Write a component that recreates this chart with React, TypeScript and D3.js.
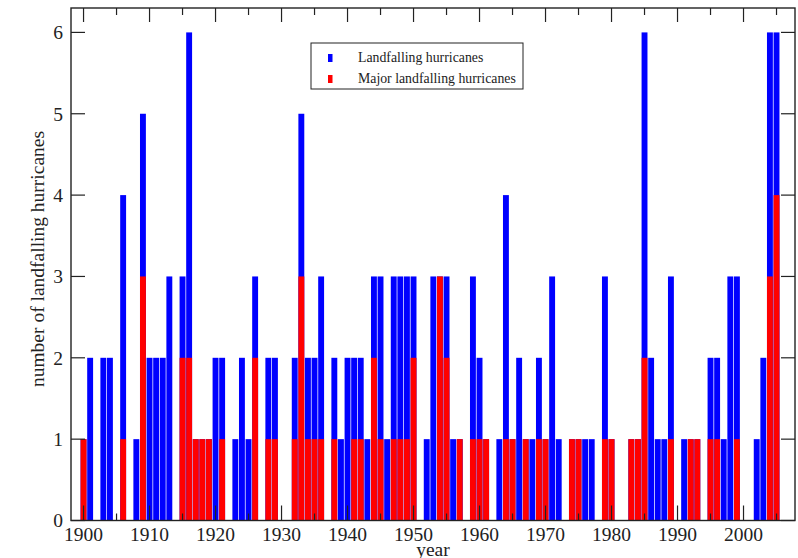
import React, { useEffect, useRef } from "react";
import * as d3 from "d3";

const startYear = 1900;
// number of landfalling hurricanes per year, 1900-2005
const landfalling = [
  1, 2, 0, 2, 2, 0, 4, 0, 1, 5,
  2, 2, 2, 3, 0, 3, 6, 1, 1, 1,
  2, 2, 0, 1, 2, 1, 3, 0, 2, 2,
  0, 0, 2, 5, 2, 2, 3, 0, 2, 1,
  2, 2, 2, 1, 3, 3, 1, 3, 3, 3,
  3, 0, 1, 3, 3, 3, 1, 1, 0, 3,
  2, 1, 0, 1, 4, 1, 2, 1, 1, 2,
  1, 3, 1, 0, 1, 1, 1, 1, 0, 3,
  1, 0, 0, 1, 1, 6, 2, 1, 1, 3,
  0, 1, 1, 1, 0, 2, 2, 1, 3, 3,
  0, 0, 1, 2, 6, 6,
];
// number of major landfalling hurricanes per year, 1900-2005
const major = [
  1, 0, 0, 0, 0, 0, 1, 0, 0, 3,
  0, 0, 0, 0, 0, 2, 2, 1, 1, 1,
  0, 1, 0, 0, 0, 0, 2, 0, 1, 1,
  0, 0, 1, 3, 1, 1, 1, 0, 1, 0,
  0, 1, 1, 0, 2, 1, 0, 1, 1, 1,
  2, 0, 0, 0, 3, 2, 0, 1, 0, 1,
  1, 1, 0, 0, 1, 1, 0, 1, 0, 1,
  1, 0, 0, 0, 1, 1, 0, 0, 0, 1,
  1, 0, 0, 1, 1, 2, 0, 0, 0, 1,
  0, 0, 1, 1, 0, 1, 1, 0, 0, 1,
  0, 0, 0, 0, 3, 4,
];
const years = landfalling.map((_, i) => startYear + i);
const xMajorTicks = [1900, 1910, 1920, 1930, 1940, 1950, 1960, 1970, 1980, 1990, 2000];
const xMinorTicks = [1905, 1915, 1925, 1935, 1945, 1955, 1965, 1975, 1985, 1995, 2005];
const yTicks = [0, 1, 2, 3, 4, 5, 6];
const legendLabels = ["Landfalling hurricanes", "Major landfalling hurricanes"];
const colors = ["#0000ff", "#ff0000"];

const W = 798;
const H = 558;
const left = 71;
const right = 795;
const top = 8;
const bottom = 520.5;
const font = "'Liberation Serif', 'Times New Roman', serif";

export default function App() {
  const ref = useRef<SVGSVGElement>(null);

  useEffect(() => {
    document.body.style.margin = "0";
    const svg = d3.select(ref.current);
    svg.selectAll("*").remove();

    const x = d3.scaleLinear().domain([1898.1, 2007.8]).range([left, right]);
    const y = d3.scaleLinear().domain([0, 6.3]).range([bottom, top]);
    const bw = 5.9;

    svg.append("rect").attr("width", W).attr("height", H).attr("fill", "#fff");

    const g = svg.append("g");
    g.selectAll("rect.total")
      .data(years)
      .join("rect")
      .attr("class", "total")
      .attr("x", (d) => x(d) - bw / 2)
      .attr("width", bw)
      .attr("y", (d, i) => y(landfalling[i]))
      .attr("height", (d, i) => bottom - y(landfalling[i]))
      .attr("fill", colors[0]);
    g.selectAll("rect.major")
      .data(years)
      .join("rect")
      .attr("class", "major")
      .attr("x", (d) => x(d) - bw / 2)
      .attr("width", bw)
      .attr("y", (d, i) => y(major[i]))
      .attr("height", (d, i) => bottom - y(major[i]))
      .attr("fill", colors[1]);

    const axisColor = "#222";
    // ticks
    const tg = svg.append("g").attr("stroke", axisColor).attr("stroke-width", 1.2);
    xMajorTicks.forEach((t) => {
      tg.append("line").attr("x1", x(t)).attr("x2", x(t)).attr("y1", bottom).attr("y2", bottom - 15);
      tg.append("line").attr("x1", x(t)).attr("x2", x(t)).attr("y1", top).attr("y2", top + 14);
    });
    xMinorTicks.forEach((t) => {
      tg.append("line").attr("x1", x(t)).attr("x2", x(t)).attr("y1", bottom).attr("y2", bottom - 7);
      tg.append("line").attr("x1", x(t)).attr("x2", x(t)).attr("y1", top).attr("y2", top + 7);
    });
    yTicks.forEach((t) => {
      tg.append("line").attr("x1", left).attr("x2", left + 14).attr("y1", y(t)).attr("y2", y(t));
      tg.append("line").attr("x1", right).attr("x2", right - 14).attr("y1", y(t)).attr("y2", y(t));
    });

    // frame
    svg
      .append("rect")
      .attr("x", left)
      .attr("y", top)
      .attr("width", right - left)
      .attr("height", bottom - top)
      .attr("fill", "none")
      .attr("stroke", axisColor)
      .attr("stroke-width", 1.4);

    // tick labels
    const lg = svg.append("g").attr("font-family", font).attr("font-size", 19.5).attr("fill", "#222");
    xMajorTicks.forEach((t) => {
      lg.append("text").attr("x", x(t)).attr("y", 541).attr("text-anchor", "middle").text(String(t));
    });
    yTicks.forEach((t) => {
      lg.append("text")
        .attr("x", 63)
        .attr("y", y(t))
        .attr("dy", "0.35em")
        .attr("text-anchor", "end")
        .text(String(t));
    });

    // axis titles
    svg
      .append("text")
      .attr("transform", `translate(44, 259) rotate(-90)`)
      .attr("text-anchor", "middle")
      .attr("font-family", font)
      .attr("font-size", 19.5)
      .attr("fill", "#222")
      .text("number of landfalling hurricanes");
    svg
      .append("text")
      .attr("x", 433)
      .attr("y", 556)
      .attr("text-anchor", "middle")
      .attr("font-family", font)
      .attr("font-size", 19.5)
      .attr("fill", "#222")
      .text("year");

    // legend
    const leg = svg.append("g");
    leg
      .append("rect")
      .attr("x", 311)
      .attr("y", 43)
      .attr("width", 212)
      .attr("height", 46)
      .attr("fill", "#fff")
      .attr("stroke", axisColor)
      .attr("stroke-width", 1);
    legendLabels.forEach((lab, i) => {
      const base = 62 + i * 21;
      leg
        .append("rect")
        .attr("x", 328)
        .attr("y", base - 8)
        .attr("width", 4.5)
        .attr("height", 8)
        .attr("fill", colors[i]);
      leg
        .append("text")
        .attr("x", 358)
        .attr("y", base)
        .attr("font-family", font)
        .attr("font-size", 13.8)
        .attr("fill", "#222")
        .text(lab);
    });
  }, []);

  return (
    <svg
      ref={ref}
      width={W}
      height={H}
      style={{ position: "absolute", left: 0, top: 0, display: "block" }}
    />
  );
}
